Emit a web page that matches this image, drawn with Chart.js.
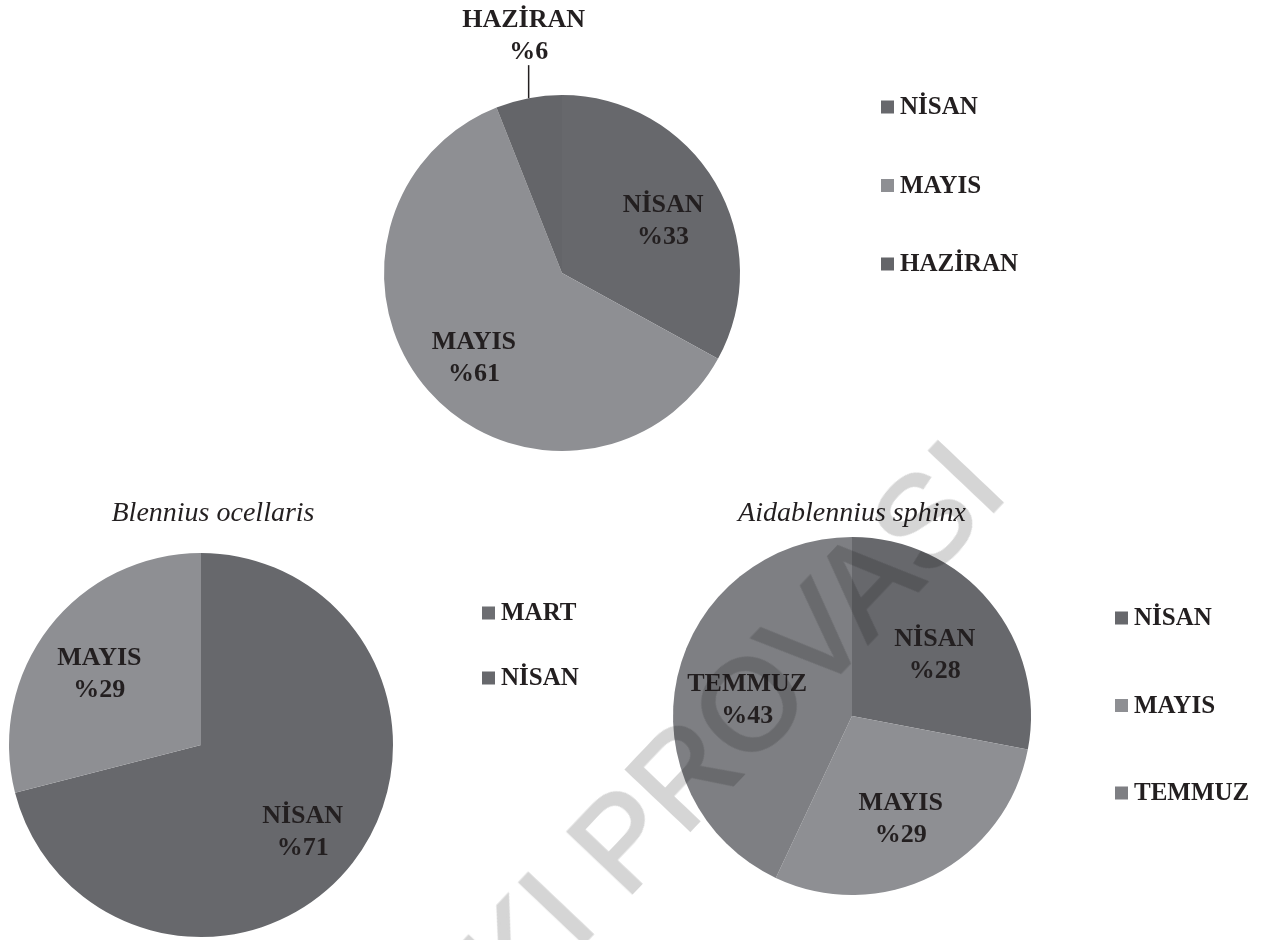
<!DOCTYPE html>
<html>
<head>
<meta charset="utf-8">
<script src="https://cdn.jsdelivr.net/npm/chart.js@4.4.1/dist/chart.umd.min.js"></script>
<style>
  html, body { margin: 0; padding: 0; background: #fff; }
  #page { position: relative; width: 1266px; height: 940px; overflow: hidden; background: #fff; }
  #page canvas { position: absolute; left: 0; top: 0; }
  .watermark {
    position: absolute; left: 643px; top: 816px;
    transform: translate(-50%, -50%) rotate(-46.5deg);
    font: 128px "Liberation Sans", Arial, sans-serif;
    color: #d5d5d5;
    -webkit-text-stroke: 3px #d5d5d5;
    mix-blend-mode: multiply;
    white-space: nowrap; pointer-events: none;
  }
</style>
</head>
<body>
<div id="page">
  <canvas id="topPie" width="1266" height="940"></canvas>
  <canvas id="blenniusPie" width="1266" height="940"></canvas>
  <canvas id="aidaPie" width="1266" height="940"></canvas>
  <div class="watermark">BASKI PROVASI</div>
</div>

<script>
//! =============== Data =============== //
const topLabels = ['NİSAN', 'MAYIS', 'HAZİRAN'];
const topValues = [33, 61, 6];

const blenniusLabels = ['MART', 'NİSAN', 'MAYIS'];
const blenniusValues = [0, 71, 29];
const blenniusLegend = ['MART', 'NİSAN'];

const aidaLabels = ['NİSAN', 'MAYIS', 'TEMMUZ'];
const aidaValues = [28, 29, 43];

const DARK = '#67686c';
const LIGHT = '#8e8f93';
const MID = '#7e7f83';
const INK = '#231f20';


//! =============== Labels, legend, title plugin =============== //
const pieExtras = {
  id: 'pieExtras',
  afterDatasetsDraw(chart, args, opts) {
    const ctx = chart.ctx;
    const meta = chart.getDatasetMeta(0);
    const ds = chart.data.datasets[0];
    const labels = chart.data.labels;

    ctx.save();
    ctx.fillStyle = INK;
    ctx.strokeStyle = INK;
    ctx.textAlign = 'center';
    ctx.textBaseline = 'middle';
    ctx.font = 'bold 26px "Liberation Serif"';

    // slice labels
    meta.data.forEach((arc, i) => {
      const v = ds.data[i];
      if (!v) return;
      const p = arc.getProps(['x', 'y', 'startAngle', 'endAngle', 'outerRadius']);
      const mid = (p.startAngle + p.endAngle) / 2;
      if (v < 10) {
        // small slice: label outside with leader line
        const ex = p.x + Math.cos(mid) * p.outerRadius;
        const ey = p.y + Math.sin(mid) * p.outerRadius;
        const top = ey - 33;
        ctx.lineWidth = 1.5;
        ctx.beginPath();
        ctx.moveTo(ex, ey);
        ctx.lineTo(ex, top);
        ctx.stroke();
        ctx.fillText(labels[i], ex - 5, top - 45);
        ctx.fillText('%' + v, ex, top - 13);
      } else {
        const r = p.outerRadius * opts.labelRadius;
        const cx = p.x + Math.cos(mid) * r;
        const cy = p.y + Math.sin(mid) * r + 8;
        ctx.fillText(labels[i], cx, cy - 16);
        ctx.fillText('%' + v, cx, cy + 16);
      }
    });

    // legend
    const lg = opts.legend;
    ctx.textAlign = 'left';
    ctx.font = 'bold 25px "Liberation Serif"';
    lg.items.forEach((name, i) => {
      const y = lg.y + i * lg.step;
      ctx.fillStyle = ds.backgroundColor[i];
      ctx.fillRect(lg.x, y - 6.5, 13, 13);
      ctx.fillStyle = INK;
      ctx.fillText(name, lg.x + 19, y + 1);
    });

    // title
    if (opts.title) {
      ctx.textAlign = 'center';
      ctx.font = 'italic 28px "Liberation Serif"';
      ctx.fillText(opts.title.text, opts.title.x, opts.title.y);
    }
    ctx.restore();
  }
};

function makePie(id, labels, values, colors, padding, extras) {
  return new Chart(document.getElementById(id), {
    type: 'pie',
    data: {
      labels: labels,
      datasets: [{
        data: values,
        backgroundColor: colors,
        borderWidth: 0
      }]
    },
    options: {
      responsive: false,
      animation: false,
      devicePixelRatio: 1,
      layout: { padding: padding },
      plugins: {
        legend: { display: false },
        tooltip: { enabled: false },
        pieExtras: extras
      }
    },
    plugins: [pieExtras]
  });
}


//! =============== Charts =============== //
makePie('topPie', topLabels, topValues, [DARK, LIGHT, '#646569'],
  { left: 384, right: 526, top: 95, bottom: 489 },
  { labelRadius: 0.66, legend: { x: 881, y: 107, step: 78.5, items: topLabels } });

makePie('blenniusPie', blenniusLabels, blenniusValues, ['#6d6e72', DARK, LIGHT],
  { left: 9, right: 873, top: 553, bottom: 3 },
  { labelRadius: 0.67, legend: { x: 482, y: 613, step: 65, items: blenniusLegend },
    title: { text: 'Blennius ocellaris', x: 213, y: 514 } });

makePie('aidaPie', aidaLabels, aidaValues, [DARK, LIGHT, MID],
  { left: 673, right: 235, top: 537, bottom: 45 },
  { labelRadius: 0.6, legend: { x: 1115, y: 618, step: 87.5, items: aidaLabels },
    title: { text: 'Aidablennius sphinx', x: 852, y: 514 } });
</script>
</body>
</html>
